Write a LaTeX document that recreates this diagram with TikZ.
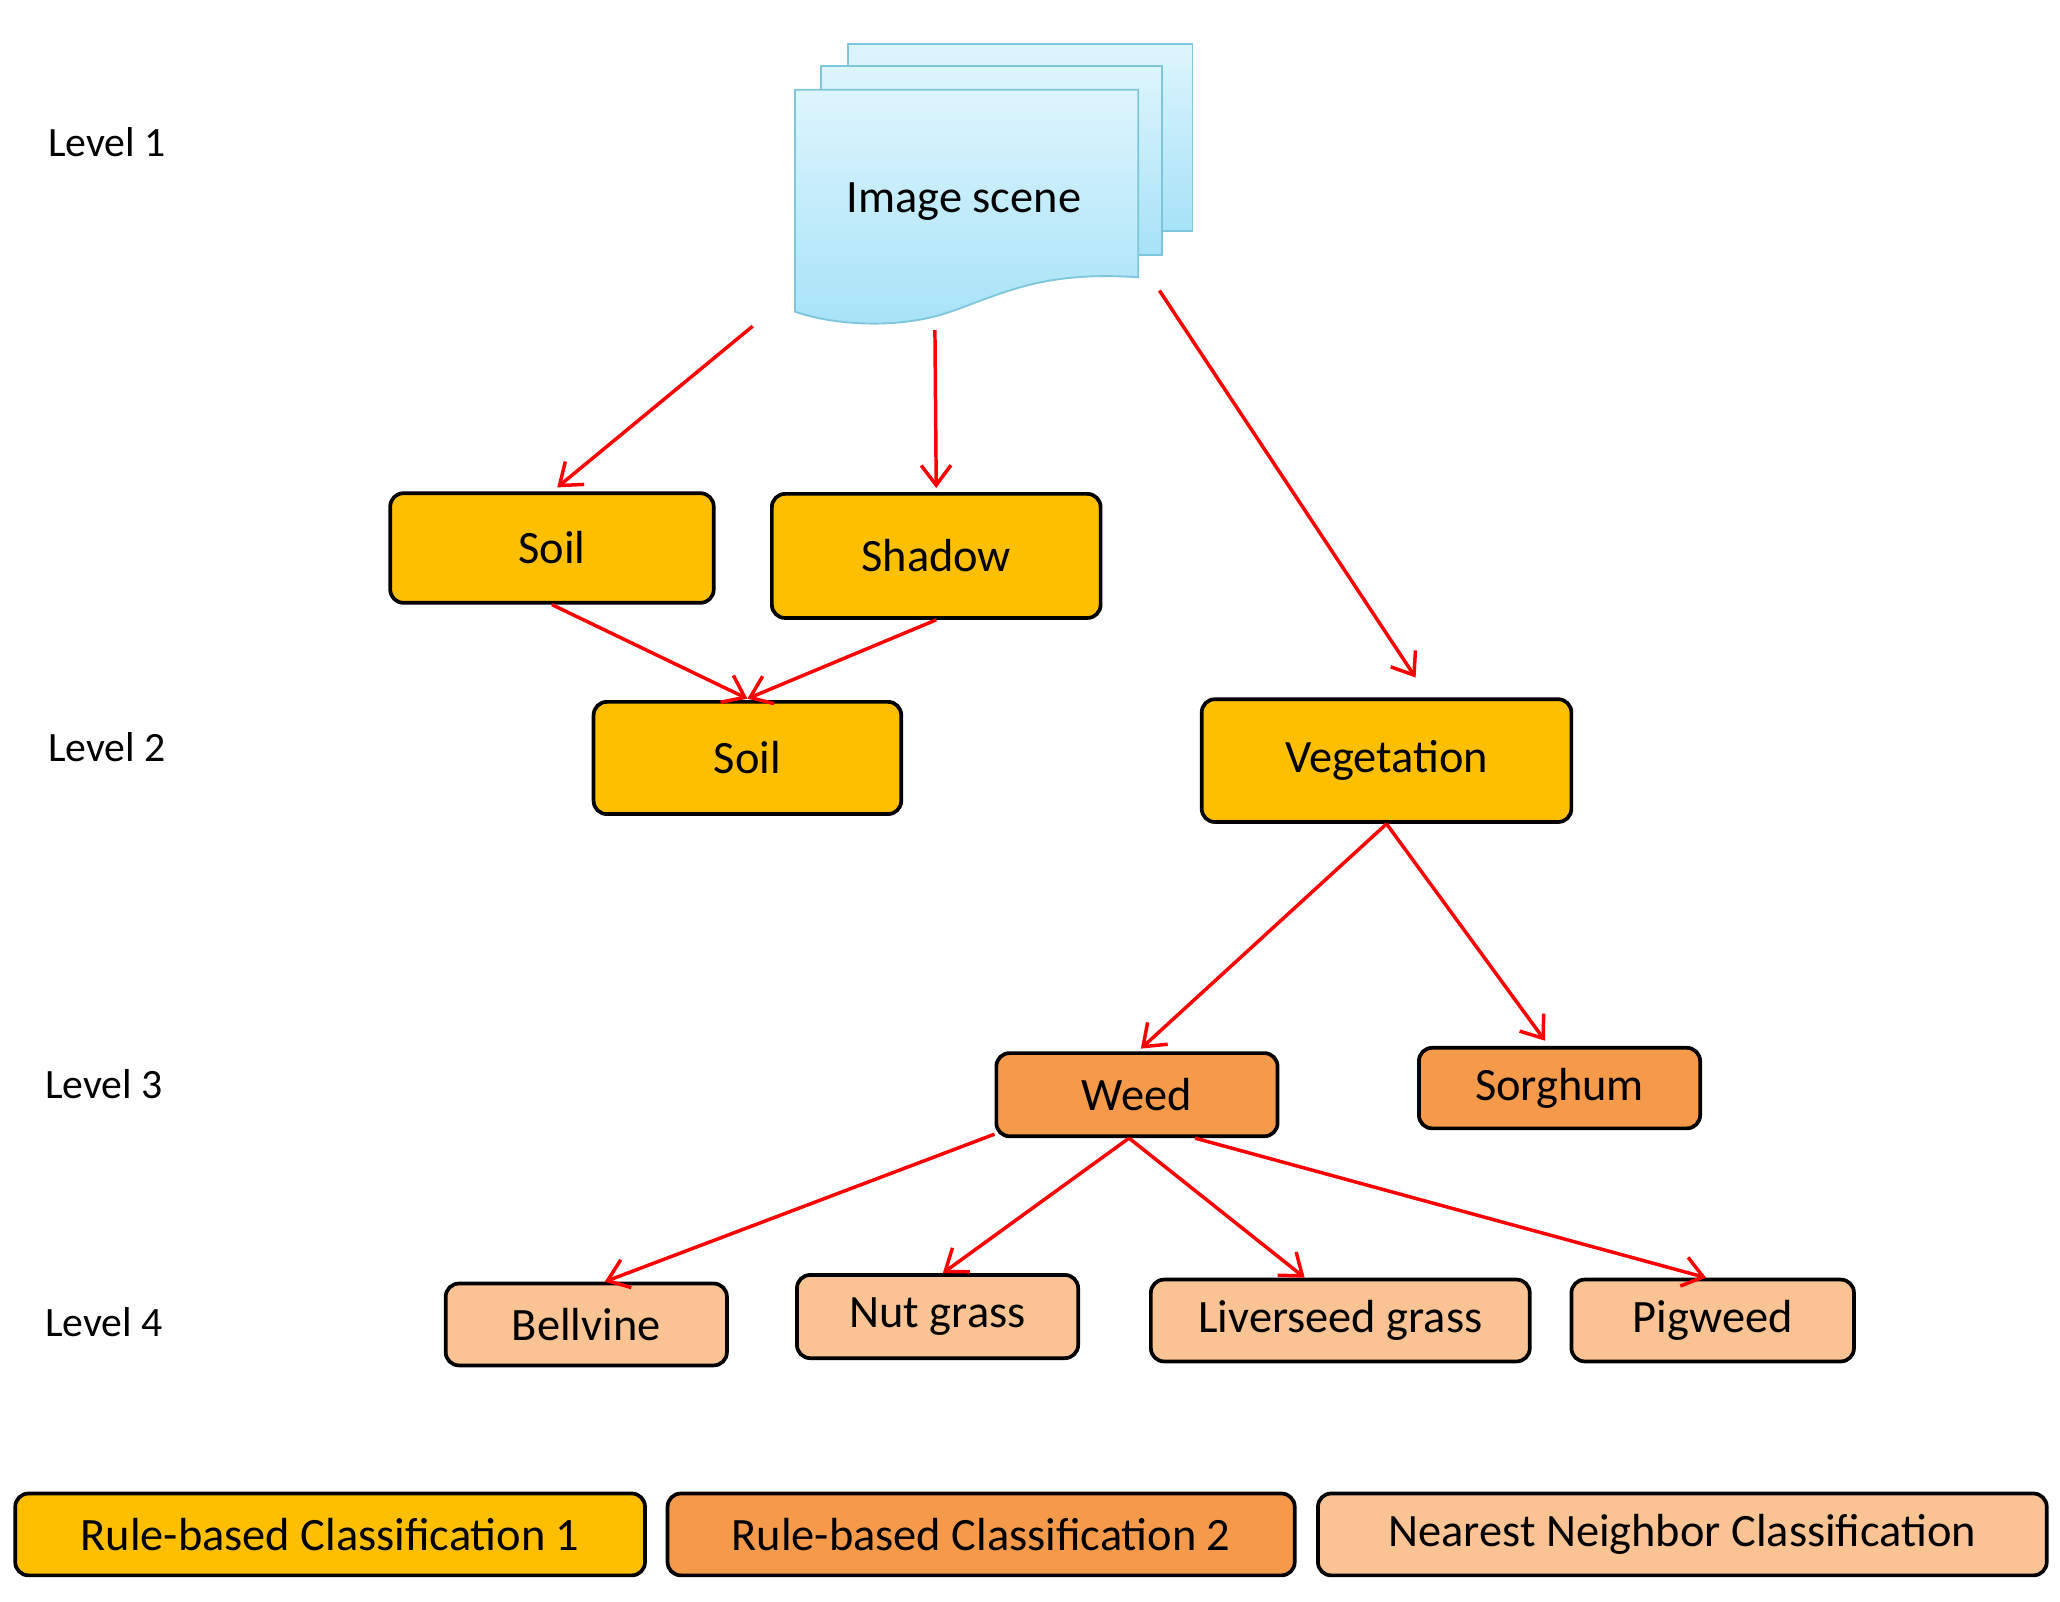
\documentclass[tikz,border=0pt]{standalone}
\usepackage{fontspec}
\setmainfont{Carlito}
\usetikzlibrary{arrows.meta}
\definecolor{gold}{HTML}{FDBF00}
\definecolor{orng}{HTML}{F59A4A}
\definecolor{peach}{HTML}{FAC394}
\definecolor{doctop}{HTML}{DDF5FD}
\definecolor{docbot}{HTML}{A6E2F7}
\definecolor{docedge}{HTML}{7EC6DC}
\begin{document}
\begin{tikzpicture}[x=0.02cm,y=-0.02cm,
  box/.style={draw=black,line width=1.6pt,rounded corners=0.2cm,font=\fontsize{20}{24}\selectfont,inner sep=0pt},
  lvl/.style={anchor=west,font=\fontsize{18}{22}\selectfont,inner sep=0pt},
  arr/.style={draw=red,line width=1.5pt,-{Straight Barb[length=0.3cm,width=0.45cm,line width=1.5pt]}},
  doc/.style={draw=docedge,line width=0.8pt,top color=doctop,bottom color=docbot}]
\useasboundingbox (0,0) rectangle (1560,1213);
% levels
\node[lvl] (l1) at (36,108) {Level 1};
\node[lvl] (l2) at (36,566) {Level 2};
\node[lvl] (l3) at (34,821) {Level 3};
\node[lvl] (l4) at (34,1001) {Level 4};
% document stack
\path[doc] (642,33) rectangle (903,175);
\path[doc] (622,50) rectangle (880,193);
\path[doc] (602,68) -- (862,68) -- (862,210) .. controls (790,205) and (760,222) .. (720,236) .. controls (680,250) and (630,246) .. (602,236) -- cycle;
\node[font=\fontsize{20}{24}\selectfont] (img) at (730,153) {Image scene};
\coordinate (imgL) at (570,247);
\coordinate (imgM) at (708,250);
\coordinate (imgR) at (878,220);
% boxes
\node[box,fill=gold,minimum width=245\pgflinewidth*0+4.9cm,minimum height=1.66cm] (soilA) at (418,415) {Soil};
\node[box,fill=gold,minimum width=4.98cm,minimum height=1.88cm] (shadow) at (709,421) {Shadow};
\node[box,fill=gold,minimum width=4.66cm,minimum height=1.7cm] (soilB) at (566,574) {Soil};
\node[box,fill=gold,minimum width=5.6cm,minimum height=1.86cm] (veg) at (1050,576) {Vegetation};
\node[box,fill=orng,minimum width=4.26cm,minimum height=1.26cm] (weed) at (861,829) {Weed};
\node[box,fill=orng,minimum width=4.26cm,minimum height=1.22cm] (sorg) at (1181,824) {Sorghum};
\node[box,fill=peach,minimum width=4.26cm,minimum height=1.24cm] (bell) at (444,1003) {Bellvine};
\node[box,fill=peach,minimum width=4.26cm,minimum height=1.26cm] (nut) at (710,997) {Nut grass};
\node[box,fill=peach,minimum width=5.74cm,minimum height=1.24cm] (liv) at (1015,1000) {Liverseed grass};
\node[box,fill=peach,minimum width=4.28cm,minimum height=1.24cm] (pig) at (1297,1000) {Pigweed};
% legend
\node[box,fill=gold,minimum width=9.54cm,minimum height=1.24cm] (lg1) at (250,1162) {Rule-based Classification 1};
\node[box,fill=orng,minimum width=9.5cm,minimum height=1.24cm] (lg2) at (743,1162) {Rule-based Classification 2};
\node[box,fill=peach,minimum width=11.04cm,minimum height=1.24cm] (lg3) at (1274,1162) {Nearest Neighbor Classification};
% arrows
\draw[arr] (imgL) -- ([xshift=0.08cm,yshift=0.06cm]soilA.north);
\draw[arr] (imgM) -- ([yshift=0.06cm]shadow.north);
\draw[arr] (imgR) -- ([xshift=0.44cm,yshift=0.3cm]veg.north);
\draw[arr] (soilA.south) -- ([yshift=0.02cm]soilB.north);
\draw[arr] (shadow.south) -- ([yshift=0.02cm]soilB.north);
\draw[arr] (veg.south) -- ([xshift=0.06cm,yshift=0.04cm]weed.north);
\draw[arr] (veg.south) -- ([xshift=-0.22cm,yshift=0.08cm]sorg.north);
\draw[arr] ([yshift=0.06cm]weed.south west) -- ([xshift=0.28cm]bell.north);
\draw[arr] ([xshift=-0.12cm]weed.south) -- ([xshift=0.08cm]nut.north);
\draw[arr] ([xshift=-0.12cm]weed.south) -- ([xshift=-0.54cm]liv.north);
\draw[arr] ([xshift=0.88cm]weed.south) -- ([xshift=-0.1cm]pig.north);
\end{tikzpicture}
\end{document}
